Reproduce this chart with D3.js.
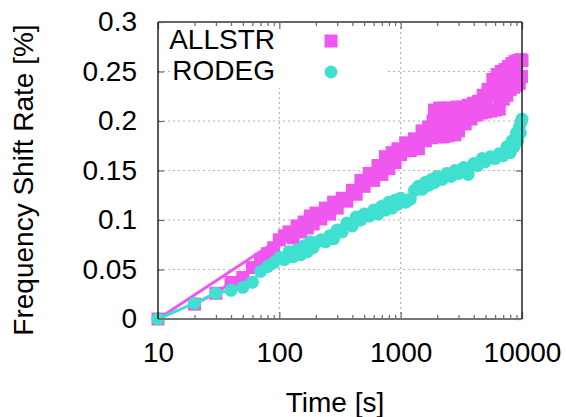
<!DOCTYPE html>
<html>
<head>
<meta charset="utf-8">
<script src="https://cdn.jsdelivr.net/npm/d3@7"></script>
<style>
  body { margin: 0; background: #fff; }
  text { font-family: "Liberation Sans", Arial, sans-serif; }
</style>
</head>
<body>
<div id="chart"></div>
<script>
// ALLSTR main block (10 s, then from 110 s on) and early block (20..100 s)
var allstrTime = [10, 110, 120, 130, 140, 150, 160, 170, 180, 190, 200, 220, 240, 260, 280, 300, 330, 360, 400, 430, 470, 500,
  550, 600, 650, 700, 750, 800, 850, 900, 950, 1000, 1100, 1200, 1300, 1400, 1500, 1600, 1700, 1800, 1850, 1900, 1950,
  2000, 2050, 2100, 2150, 2200, 2250, 2300, 2350, 2400, 2450, 2500, 2600, 2700, 2800, 2900, 3000, 3100, 3200, 3400,
  3500, 3600, 3800, 3900, 4000, 4200, 4400, 4600, 4800,
  5000, 5250, 5500, 5750, 6000, 6250, 6500, 6750, 7000, 7250, 7500, 7750, 8000, 8250, 8500, 8750, 9000, 9250, 9500,
  9750, 9900, 10000];
var allstrRate = [0, 0.084, 0.088, 0.082, 0.094, 0.088, 0.098, 0.092, 0.104, 0.096, 0.107, 0.101, 0.112, 0.106, 0.118, 0.112, 0.122, 0.119, 0.130, 0.126, 0.140, 0.134,
  0.147, 0.140, 0.155, 0.146, 0.164, 0.152, 0.168, 0.158, 0.172, 0.166, 0.178, 0.170, 0.182, 0.172, 0.190, 0.180, 0.194, 0.183, 0.200, 0.211, 0.193,
  0.204, 0.184, 0.213, 0.194, 0.205, 0.184, 0.213, 0.195, 0.205, 0.185, 0.213, 0.196, 0.206, 0.186, 0.214, 0.190, 0.205, 0.214, 0.197,
  0.208, 0.216, 0.202, 0.210, 0.218, 0.206, 0.220, 0.208, 0.226,
  0.209, 0.232, 0.210, 0.242, 0.211, 0.247, 0.212, 0.250, 0.222, 0.252, 0.226, 0.255, 0.232, 0.258, 0.234, 0.260, 0.236, 0.261, 0.238,
  0.262, 0.245, 0.261];
var allstrEarlyTime = [20, 30, 40, 50, 60, 70, 80, 90, 100];
var allstrEarlyRate = [0.015, 0.026, 0.037, 0.042, 0.052, 0.060, 0.066, 0.072, 0.080];

var rodegTime = [10, 20, 30, 40, 50, 60, 70, 80, 90, 100, 110, 120, 130, 140, 150, 160, 170, 180, 190, 200, 220, 240, 260, 280, 300,
  330, 360, 400, 430, 470, 500, 550, 600, 650, 700, 750, 800, 850, 900, 950, 1000, 1100, 1200, 1300, 1400, 1500, 1600,
  1700, 1800, 1900, 2000, 2200, 2400, 2600, 2800, 3000, 3300, 3600, 4000, 4300, 4700, 5000, 5500, 6000, 6500, 7000,
  7500, 8000, 8300, 8600, 9000, 9200, 9500, 9700, 9850, 10000];
var rodegRate = [0, 0.016, 0.026, 0.029, 0.032, 0.037, 0.048, 0.053, 0.057, 0.062, 0.060, 0.068, 0.063, 0.070, 0.065, 0.074, 0.068, 0.078, 0.072, 0.077, 0.080, 0.078, 0.084, 0.081, 0.090,
  0.088, 0.097, 0.094, 0.103, 0.100, 0.106, 0.104, 0.110, 0.106, 0.114, 0.110, 0.118, 0.112, 0.120, 0.116, 0.122, 0.118, 0.121, 0.130, 0.134, 0.131, 0.138,
  0.135, 0.141, 0.138, 0.144, 0.141, 0.147, 0.144, 0.150, 0.147, 0.153, 0.146, 0.157, 0.155, 0.162, 0.159, 0.164, 0.162, 0.167, 0.165,
  0.174, 0.168, 0.180, 0.174, 0.188, 0.180, 0.194, 0.188, 0.199, 0.202];

var xMajorTicks = [10, 100, 1000, 10000];
var xMinorTicks = [20, 30, 40, 50, 60, 70, 80, 90, 200, 300, 400, 500, 600, 700, 800, 900, 2000, 3000, 4000, 5000, 6000, 7000, 8000, 9000];
var yTicks = [0, 0.05, 0.1, 0.15, 0.2, 0.25, 0.3];
var yGrid = [0.05, 0.1, 0.15, 0.2, 0.25];
var xGrid = [100, 1000];

var width = 566;
var height = 417;
var plotLeft = 158, plotRight = 522, plotTop = 22, plotBottom = 319;
var pink = '#f057ef';
var cyan = '#40e0d0';
var markSize = 13;

var svg = d3.select('#chart').append('svg')
      .attr('width', width)
      .attr('height', height);

var x = d3.scaleLog().domain([10, 10000]).range([plotLeft, plotRight]);
var y = d3.scaleLinear().domain([0, 0.3]).range([plotBottom, plotTop]);

// grid
var grid = svg.append('g')
      .attr('stroke', '#b4b4b4')
      .attr('stroke-width', 1.2)
      .attr('stroke-dasharray', '2,3');
grid.selectAll('.hg').data(yGrid).enter().append('line')
      .attr('x1', plotLeft).attr('x2', plotRight)
      .attr('y1', d => y(d)).attr('y2', d => y(d));
grid.selectAll('.vg').data(xGrid).enter().append('line')
      .attr('x1', d => x(d)).attr('x2', d => x(d))
      .attr('y1', plotTop).attr('y2', plotBottom);

// opaque key box
svg.append('rect')
      .attr('x', 173).attr('y', plotTop + 1)
      .attr('width', 212).attr('height', 65)
      .attr('fill', '#fff');

// axes (ticks pointing inward on all four sides)
function styleAxis(g) {
      g.select('.domain').remove();
      g.selectAll('line').attr('stroke', '#666').attr('stroke-width', 1.2);
      g.selectAll('text').attr('fill', '#000').style('font-size', '28px')
            .style('font-family', '"Liberation Sans", Arial, sans-serif');
}
svg.append('g').attr('transform', 'translate(0,' + plotBottom + ')')
      .call(d3.axisBottom(x).tickValues(xMajorTicks).tickSize(-7).tickPadding(23).tickFormat(d3.format('d')))
      .call(styleAxis);
svg.append('g').attr('transform', 'translate(0,' + plotBottom + ')')
      .call(d3.axisBottom(x).tickValues(xMinorTicks).tickSize(-4).tickFormat(''))
      .call(styleAxis);
svg.append('g').attr('transform', 'translate(0,' + plotTop + ')')
      .call(d3.axisTop(x).tickValues(xMajorTicks).tickSize(-7).tickFormat(''))
      .call(styleAxis);
svg.append('g').attr('transform', 'translate(0,' + plotTop + ')')
      .call(d3.axisTop(x).tickValues(xMinorTicks).tickSize(-4).tickFormat(''))
      .call(styleAxis);
svg.append('g').attr('transform', 'translate(' + plotLeft + ',0)')
      .call(d3.axisLeft(y).tickValues(yTicks).tickSize(-6).tickPadding(21).tickFormat(d3.format('')))
      .call(styleAxis);
svg.append('g').attr('transform', 'translate(' + plotRight + ',0)')
      .call(d3.axisRight(y).tickValues(yTicks).tickSize(-6).tickFormat(''))
      .call(styleAxis);

// data
var line = d3.line().x(d => x(d[0])).y(d => y(d[1]));
var allstrMain = d3.zip(allstrTime, allstrRate);
var allstrEarly = d3.zip(allstrEarlyTime, allstrEarlyRate);
var rodeg = d3.zip(rodegTime, rodegRate);

svg.append('path').datum(allstrMain)
      .attr('d', line).attr('fill', 'none').attr('stroke', pink).attr('stroke-width', 3);
svg.append('path').datum(allstrEarly)
      .attr('d', line).attr('fill', 'none').attr('stroke', pink).attr('stroke-width', 3);
svg.append('g').selectAll('rect')
      .data(allstrMain.concat(allstrEarly))
      .enter().append('rect')
      .attr('x', d => x(d[0]) - markSize / 2)
      .attr('y', d => y(d[1]) - markSize / 2)
      .attr('width', markSize).attr('height', markSize)
      .attr('fill', pink);

svg.append('path').datum(rodeg)
      .attr('d', line).attr('fill', 'none').attr('stroke', cyan).attr('stroke-width', 3);
svg.append('g').selectAll('circle')
      .data(rodeg)
      .enter().append('circle')
      .attr('cx', d => x(d[0]))
      .attr('cy', d => y(d[1]))
      .attr('r', markSize / 2)
      .attr('fill', cyan);

// border
svg.append('line').attr('x1', plotLeft).attr('x2', plotRight).attr('y1', plotTop).attr('y2', plotTop)
      .attr('stroke', '#666').attr('stroke-width', 2);
svg.append('line').attr('x1', plotLeft).attr('x2', plotRight).attr('y1', plotBottom).attr('y2', plotBottom)
      .attr('stroke', '#777').attr('stroke-width', 2);
svg.append('line').attr('x1', plotLeft).attr('x2', plotLeft).attr('y1', plotTop).attr('y2', plotBottom)
      .attr('stroke', '#000').attr('stroke-width', 1.3);
svg.append('line').attr('x1', plotRight).attr('x2', plotRight).attr('y1', plotTop).attr('y2', plotBottom)
      .attr('stroke', '#222').attr('stroke-width', 1.5);

// legend
svg.append('text').attr('x', 275).attr('y', 49)
      .style('text-anchor', 'end').style('font-size', '28px').text('ALLSTR');
svg.append('text').attr('x', 275).attr('y', 80)
      .style('text-anchor', 'end').style('font-size', '28px').text('RODEG');
svg.append('rect')
      .attr('x', 331 - markSize / 2).attr('y', 41 - markSize / 2)
      .attr('width', markSize).attr('height', markSize)
      .attr('fill', pink);
svg.append('circle')
      .attr('cx', 331).attr('cy', 72)
      .attr('r', markSize / 2)
      .attr('fill', cyan);

// axis titles
svg.append('text')
      .attr('x', 335).attr('y', 412)
      .style('text-anchor', 'middle').style('font-size', '28px')
      .text('Time [s]');
svg.append('text')
      .attr('transform', 'translate(33,180) rotate(-90)')
      .style('text-anchor', 'middle').style('font-size', '28px')
      .text('Frequency Shift Rate [%]');
</script>
</body>
</html>
